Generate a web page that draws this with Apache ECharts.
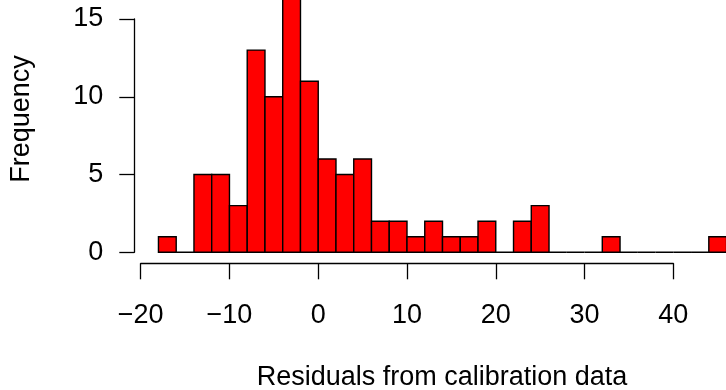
<!DOCTYPE html>
<html>
<head>
<meta charset="utf-8">
<script src="https://cdn.jsdelivr.net/npm/echarts@6/dist/echarts.min.js"></script>
<style>html,body{margin:0;padding:0;background:#fff}#c{width:726px;height:390px}</style>
</head>
<body>
<div id="c"></div>
<script>
// Histogram bin edges (left, right) and counts
var binLeft  = [-18,-16,-14,-12,-10,-8,-6,-4,-2,0,2,4,6,8,10,12,14,16,18,20,22,24,26,28,30,32,34,36,38,40,42,44];
var binRight = [-16,-14,-12,-10,-8,-6,-4,-2,0,2,4,6,8,10,12,14,16,18,20,22,24,26,28,30,32,34,36,38,40,42,44,46];
var counts   = [1,0,5,5,3,13,10,17,11,6,5,6,2,2,1,2,1,1,2,0,2,3,0,0,0,1,0,0,0,0,0,1];
var xTicks = [-20,-10,0,10,20,30,40];
var yTicks = [0,5,10,15];
var xTitle = 'Residuals from calibration data';
var yTitle = 'Frequency';

var FONT = 'Liberation Sans, Arial, Helvetica, sans-serif';
var FS = 27;

var data = binLeft.map(function(l, i){ return [l, binRight[i], counts[i]]; });

var chart = echarts.init(document.getElementById('c'), null, {renderer:'canvas'});
chart.setOption({
  animation: false,
  backgroundColor: '#ffffff',
  grid: {left: 140.7, right: 52.7, top: 19, bottom: 137.7, containLabel: false},
  xAxis: {
    type: 'value', min: xTicks[0], max: xTicks[xTicks.length-1], interval: 10,
    offset: 11,
    axisLine: {show: true, onZero: false, lineStyle: {color: '#000', width: 1.3}},
    axisTick: {show: true, length: 16, lineStyle: {color: '#000', width: 1.3}},
    axisLabel: {show: true, margin: 39, color: '#000', fontSize: FS, fontFamily: FONT,
      formatter: function(v){ return v < 0 ? '\u2212' + Math.abs(v) : String(v); }},
    splitLine: {show: false}
  },
  yAxis: {
    type: 'value', min: yTicks[0], max: yTicks[yTicks.length-1], interval: 5,
    offset: 6.4,
    axisLine: {show: true, onZero: false, lineStyle: {color: '#000', width: 1.3}},
    axisTick: {show: true, length: 15, lineStyle: {color: '#000', width: 1.3}},
    axisLabel: {show: true, margin: 31, color: '#000', fontSize: FS, fontFamily: FONT},
    splitLine: {show: false}
  },
  graphic: [
    {type: 'text', x: 442, y: 377.5, style: {text: xTitle, font: FS + 'px ' + FONT, fill: '#000', textAlign: 'center', textVerticalAlign: 'middle'}},
    {type: 'text', x: 21.7, y: 119, rotation: Math.PI/2, style: {text: yTitle, font: FS + 'px ' + FONT, fill: '#000', textAlign: 'center', textVerticalAlign: 'middle'}}
  ],
  series: [{
    type: 'custom',
    clip: false,
    data: data,
    encode: {x: [0, 1], y: 2},
    renderItem: function(params, api){
      var p0 = api.coord([api.value(0), 0]);
      var p1 = api.coord([api.value(1), api.value(2)]);
      return {
        type: 'rect',
        shape: {x: p0[0], y: p1[1], width: p1[0] - p0[0], height: p0[1] - p1[1]},
        style: {fill: '#ff0000', stroke: '#000', lineWidth: 1.4}
      };
    }
  }]
});
</script>
</body>
</html>
